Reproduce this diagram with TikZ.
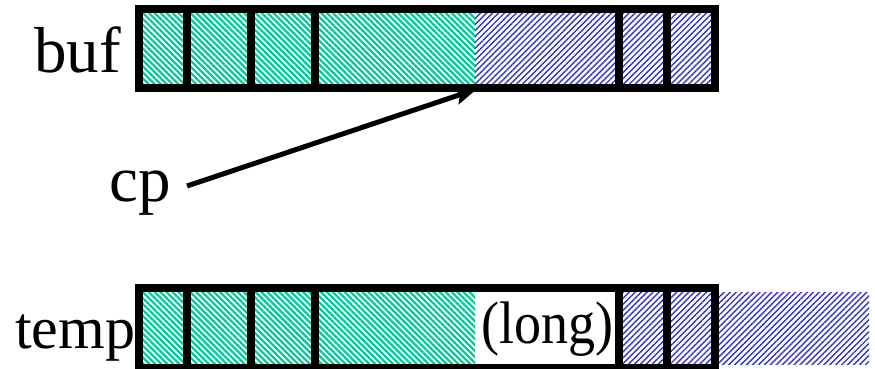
\documentclass[tikz,border=0pt]{standalone}
\usepackage{fontspec}
\setmainfont{Liberation Serif}
\usetikzlibrary{patterns.meta,arrows.meta}
\definecolor{hgreen}{HTML}{00CC99}
\definecolor{hblue}{HTML}{3333CC}
\tikzset{
  greenfill/.style={pattern={Lines[angle=-45,distance=4.2pt,line width=2.3pt]},pattern color=hgreen},
  bluefill/.style={pattern={Lines[angle=45,distance=4.2pt,line width=1.4pt]},pattern color=hblue},
  barframe/.style={line width=8pt,draw=black},
  label/.style={inner sep=0pt,anchor=base west,font=\fontsize{60}{60}\selectfont},
  biglabel/.style={label,font=\fontsize{65}{65}\selectfont},
  pointer/.style={line width=5pt,-{Stealth[length=22pt,width=17pt,inset=4pt]}}
}
\begin{document}
\begin{tikzpicture}[x=1pt,y=-1pt]
\useasboundingbox (0,0) rectangle (875,369);
\clip (0,0) rectangle (875,369);
% buf bar
\fill[greenfill] (143,13) rectangle (475,84);
\fill[bluefill] (475,13) rectangle (711,84);
\draw[barframe] (139,9) rectangle (715,88);
\foreach \x in {187,251,315,619,667} \draw[barframe] (\x,9) -- (\x,88);
% temp bar
\fill[greenfill] (143,292) rectangle (475,364);
\fill[bluefill] (615,292) rectangle (711,364);
\fill[bluefill] (719,292) rectangle (869,364);
\draw[barframe] (139,288) rectangle (715,368);
\foreach \x in {187,251,315,619,667} \draw[barframe] (\x,288) -- (\x,368);
% labels
\node[biglabel] (buf) at (34,73) {buf};
\node[biglabel] (cp) at (109,201) {cp};
\node[label] (temp) at (15,348) {temp};
\node[label] (long) at (481,343) {\scalebox{0.9}[1]{(long)}};
% pointer
\coordinate (cptail) at (187,186);
\coordinate (cptip) at (477,89);
\draw[pointer] (cptail) -- (cptip);
\end{tikzpicture}
\end{document}
